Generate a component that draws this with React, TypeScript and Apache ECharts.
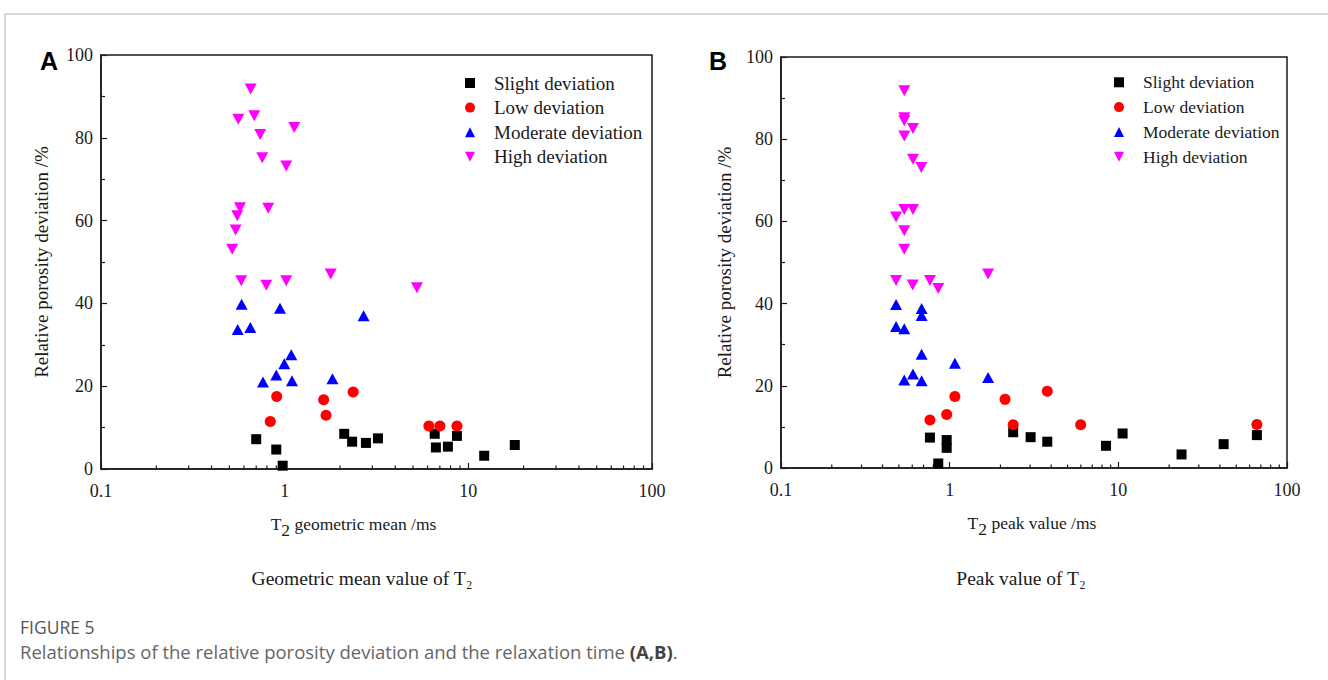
import React, { useEffect, useRef } from "react";
import * as echarts from "echarts";

// ---------- data ----------
const seriesNames = ["Slight deviation", "Low deviation", "Moderate deviation", "High deviation"];
const seriesColors = ["#000000", "#ff0000", "#0000ff", "#ff00ff"];
const xTickLabels = ["0.1", "1", "10", "100"];
const minorTickValues = [0.2, 0.3, 0.4, 0.5, 0.6, 0.7, 0.8, 0.9, 2, 3, 4, 5, 6, 7, 8, 9, 20, 30, 40, 50, 60, 70, 80, 90];

// Panel A: T2 geometric mean (ms), relative porosity deviation (%)
const slightA = [[0.70, 7.2], [0.90, 4.7], [0.975, 0.8], [2.11, 8.5], [2.33, 6.6], [2.77, 6.3], [3.22, 7.4], [6.56, 8.5], [6.66, 5.2], [7.74, 5.4], [8.67, 8.0], [12.2, 3.2], [17.9, 5.8]];
const lowA = [[0.905, 17.5], [0.835, 11.5], [1.63, 16.7], [1.68, 13.0], [2.36, 18.6], [6.1, 10.4], [7.0, 10.4], [8.67, 10.4]];
const moderateA = [[0.583, 39.8], [0.555, 33.7], [0.65, 34.2], [0.943, 38.8], [1.086, 27.6], [0.995, 25.4], [0.9, 22.7], [0.762, 21.0], [1.096, 21.3], [1.82, 21.8], [2.69, 37.0]];
const highA = [[0.653, 91.8], [0.559, 84.5], [0.683, 85.3], [1.128, 82.5], [0.736, 80.8], [0.755, 75.2], [1.02, 73.2], [0.571, 63.1], [0.814, 63.0], [0.552, 61.2], [0.541, 57.7], [0.518, 53.1], [0.58, 45.5], [0.794, 44.4], [1.02, 45.5], [1.78, 47.1], [5.25, 43.8]];

// Panel B: T2 peak value (ms), relative porosity deviation (%)
const slightB = [[0.764, 7.4], [0.96, 6.8], [0.96, 4.9], [0.856, 1.1], [2.38, 8.7], [3.02, 7.5], [3.79, 6.4], [8.45, 5.4], [10.6, 8.4], [23.7, 3.3], [42.1, 5.8], [66.3, 8.0]];
const lowB = [[1.074, 17.4], [0.96, 13.0], [0.764, 11.7], [2.13, 16.7], [2.38, 10.5], [3.79, 18.7], [5.98, 10.5], [66.3, 10.6]];
const moderateB = [[0.481, 39.8], [0.481, 34.4], [0.538, 33.9], [0.682, 38.8], [0.682, 37.1], [0.682, 27.7], [0.606, 22.9], [0.538, 21.4], [0.682, 21.2], [1.074, 25.5], [1.69, 22.0]];
const highB = [[0.538, 91.8], [0.538, 85.2], [0.538, 84.5], [0.606, 82.6], [0.538, 80.8], [0.606, 75.1], [0.679, 73.1], [0.538, 62.9], [0.606, 62.9], [0.481, 61.1], [0.538, 57.7], [0.538, 53.2], [0.481, 45.6], [0.604, 44.5], [0.764, 45.6], [0.856, 43.7], [1.69, 47.2]];

const SERIF = "'Liberation Serif', 'Times New Roman', serif";
const SANS = "'Open Sans', 'Noto Sans', sans-serif";
const INK = "#1a1a1a";

const symbols = ["rect", "circle", "triangle", "path://M0,0L10,0L5,10Z"];
const symbolSizes: any[] = [10, 11, [12, 11], [12, 11]];
const legendIcons = [
  "path://M0,0H10V10H0Z",
  "path://M5,0A5,5 0 1,1 5,10A5,5 0 1,1 5,0Z",
  "path://M5,0L10,10L0,10Z",
  "path://M0,0L10,0L5,10Z",
];

function makeX(gridIndex: number, nameParts: string[], shiftLeft: number) {
  return {
    gridIndex,
    type: "log",
    logBase: 10,
    min: 0.1,
    max: 100,
    axisLine: { show: true, lineStyle: { color: INK, width: 1.5 } },
    axisTick: { show: true, inside: true, length: 6, lineStyle: { color: INK, width: 1.2 } },
    splitLine: { show: false },
    axisLabel: {
      fontFamily: SERIF,
      fontSize: 18,
      color: INK,
      margin: 13,
      formatter: (v: number) => {
        const i = Math.round(Math.log10(v)) + 1;
        return xTickLabels[i] ?? "";
      },
    },
    name: `{t|${nameParts[0]}}{s|${nameParts[1]}}{t|${nameParts[2]}}`,
    nameLocation: "middle",
    nameGap: 40,
    nameTextStyle: {
      padding: [0, shiftLeft * 2, 0, 0],
      rich: {
        t: { fontFamily: SERIF, fontSize: 17.5, color: INK },
        s: { fontFamily: SERIF, fontSize: 17.5, color: INK, padding: [12, 0, 0, 0] },
      },
    },
  };
}

function makeY(gridIndex: number, nameGap: number) {
  return {
    gridIndex,
    type: "value",
    min: 0,
    max: 100,
    interval: 20,
    axisLine: { show: true, lineStyle: { color: INK, width: 1.5 } },
    axisTick: { show: true, inside: true, length: 6, lineStyle: { color: INK, width: 1.2 } },
    minorTick: { show: true, splitNumber: 2, length: 4, lineStyle: { color: INK, width: 1.2 } },
    splitLine: { show: false },
    minorSplitLine: { show: false },
    axisLabel: { fontFamily: SERIF, fontSize: 18, color: INK, margin: 8 },
    name: "Relative porosity deviation /%",
    nameLocation: "middle",
    nameGap,
    nameTextStyle: { fontFamily: SERIF, fontSize: 19, color: INK },
  };
}

function scatterSeries(idx: number, panel: number, data: number[][]) {
  return {
    type: "scatter",
    name: seriesNames[idx],
    xAxisIndex: panel,
    yAxisIndex: panel,
    data,
    symbol: symbols[idx],
    symbolSize: symbolSizes[idx],
    itemStyle: { color: seriesColors[idx], opacity: 1 },
    emphasis: { disabled: true },
  };
}

function minorTickSeries(panel: number) {
  return {
    type: "custom",
    name: "minor-x-" + panel,
    xAxisIndex: panel,
    yAxisIndex: panel,
    silent: true,
    clip: false,
    data: minorTickValues.map((v) => [v, 0]),
    renderItem: (_params: any, api: any) => {
      const p = api.coord([api.value(0), 0]);
      return {
        type: "line",
        shape: { x1: p[0], y1: p[1], x2: p[0], y2: p[1] - 3.5 },
        style: { stroke: INK, lineWidth: 1.2 },
      };
    },
  };
}

function makeLegend(left: number, top: number, fontSize: number, itemGap: number) {
  return {
    left,
    top,
    padding: 0,
    orient: "vertical",
    itemWidth: 38,
    itemHeight: 10,
    itemGap,
    selectedMode: false,
    symbolKeepAspect: true,
    textStyle: { fontFamily: SERIF, fontSize, color: INK },
    data: seriesNames.map((n, i) => ({ name: n, icon: legendIcons[i], itemStyle: { color: seriesColors[i] } })),
  };
}

export default function App() {
  const ref = useRef<HTMLDivElement>(null);
  useEffect(() => {
    if (!ref.current) return;
    const chart = echarts.init(ref.current, null, { renderer: "svg" });
    const option: any = {
      animation: false,
      backgroundColor: "#ffffff",
      grid: [
        { left: 101, top: 55, width: 551, height: 414, show: true, borderColor: INK, borderWidth: 1.5, backgroundColor: "transparent" },
        { left: 781, top: 57, width: 506, height: 411, show: true, borderColor: INK, borderWidth: 1.5, backgroundColor: "transparent" },
      ],
      xAxis: [makeX(0, ["T", "2", " geometric mean /ms"], 23), makeX(1, ["T", "2", " peak value /ms"], 2)],
      yAxis: [makeY(0, 50), makeY(1, 47)],
      legend: [makeLegend(465, 73.5, 19, 5.6), makeLegend(1114, 73.3, 17.5, 6.8)],
      series: [
        minorTickSeries(0),
        minorTickSeries(1),
        scatterSeries(0, 0, slightA),
        scatterSeries(1, 0, lowA),
        scatterSeries(2, 0, moderateA),
        scatterSeries(3, 0, highA),
        scatterSeries(0, 1, slightB),
        scatterSeries(1, 1, lowB),
        scatterSeries(2, 1, moderateB),
        scatterSeries(3, 1, highB),
      ],
      graphic: [
        {
          type: "polyline",
          silent: true,
          shape: { points: [[1328, 14], [5, 14], [5, 680]] },
          style: { stroke: "#cccccc", lineWidth: 1.5, fill: null },
        },
        { type: "text", x: 49, y: 61, style: { text: "A", font: "bold 25px 'Liberation Sans', Arial, sans-serif", fill: "#000", align: "center", verticalAlign: "middle" } },
        { type: "text", x: 718, y: 61, style: { text: "B", font: "bold 25px 'Liberation Sans', Arial, sans-serif", fill: "#000", align: "center", verticalAlign: "middle" } },
        { type: "text", x: 362, y: 578, style: { text: "Geometric mean value of T\u2082", font: `19.5px ${SERIF}`, fill: INK, align: "center", verticalAlign: "middle" } },
        { type: "text", x: 1021, y: 578, style: { text: "Peak value of T\u2082", font: `19.5px ${SERIF}`, fill: INK, align: "center", verticalAlign: "middle" } },
        { type: "text", x: 20, y: 627, style: { text: "FIGURE 5", font: `17.5px ${SANS}`, fill: "#555555", align: "left", verticalAlign: "middle" } },
        {
          type: "text",
          x: 20,
          y: 651,
          style: {
            text: "{n|Relationships of the relative porosity deviation and the relaxation time }{b|(A,B)}{n|.}",
            align: "left",
            verticalAlign: "middle",
            rich: {
              n: { fontFamily: SANS, fontSize: 18.5, fill: "#666666", color: "#666666" },
              b: { fontFamily: SANS, fontSize: 18.5, fontWeight: "bold", fill: "#444444", color: "#444444" },
            },
          },
        },
      ],
    };
    chart.setOption(option);
    return () => chart.dispose();
  }, []);
  return (
    <div
      ref={ref}
      style={{ position: "absolute", left: 0, top: 0, width: 1328, height: 680, background: "#ffffff" }}
    />
  );
}
